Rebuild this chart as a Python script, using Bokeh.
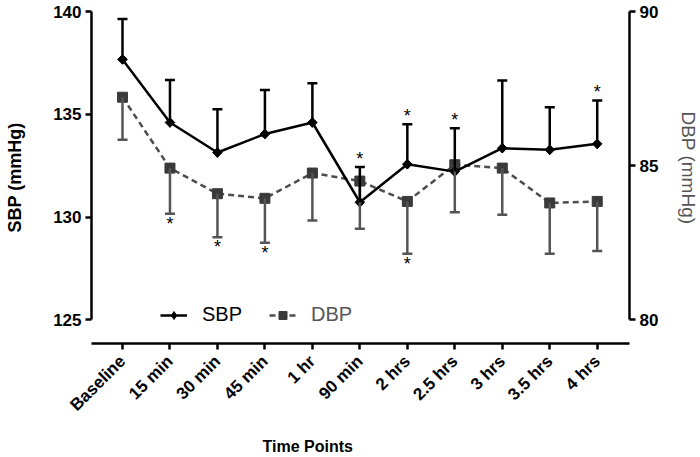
from math import pi
from bokeh.plotting import figure
from bokeh.layouts import row
from bokeh.models import (Range1d, LinearAxis, FixedTicker, ColumnDataSource,
                          Whisker, TeeHead, Legend, LegendItem, Title)
from bokeh.core.properties import value
from bokeh.embed import file_html
from bokeh.resources import INLINE

# ---- data ----
time_labels = ["Baseline", "15 min", "30 min", "45 min", "1 hr", "90 min",
               "2 hrs", "2.5 hrs", "3 hrs", "3.5 hrs", "4 hrs"]
sbp_mean = [137.67, 134.60, 133.14, 134.04, 134.60, 130.72, 132.57, 132.21, 133.35, 133.27, 133.56]
sbp_sem = [1.97, 2.07, 2.11, 2.14, 1.91, 1.71, 1.95, 2.11, 3.29, 2.07, 2.11]
dbp_mean = [87.22, 84.92, 84.09, 83.94, 84.76, 84.50, 83.84, 85.03, 84.92, 83.79, 83.84]
dbp_sem = [1.38, 1.48, 1.41, 1.44, 1.54, 1.55, 1.70, 1.54, 1.51, 1.65, 1.61]
sbp_sig = [0, 0, 0, 0, 0, 1, 1, 1, 0, 0, 1]
dbp_sig = [0, 1, 1, 1, 0, 0, 1, 0, 0, 0, 0]
sbp_ticks = [125, 130, 135, 140]
dbp_ticks = [80, 85, 90]
dbp_title = "DBP  (mmHg)"

FONT = "Liberation Sans"
x = list(range(len(time_labels)))

src = ColumnDataSource(dict(
    x=x,
    sbp=sbp_mean,
    sbp_hi=[m + e for m, e in zip(sbp_mean, sbp_sem)],
    dbp=dbp_mean,
    dbp_lo=[m - e for m, e in zip(dbp_mean, dbp_sem)],
))
sbp_star = ColumnDataSource(dict(
    x=[i for i in x if sbp_sig[i]],
    y=[sbp_mean[i] + sbp_sem[i] for i in x if sbp_sig[i]],
    t=["*" for i in x if sbp_sig[i]],
))
dbp_star = ColumnDataSource(dict(
    x=[i for i in x if dbp_sig[i]],
    y=[dbp_mean[i] - dbp_sem[i] for i in x if dbp_sig[i]],
    t=["*" for i in x if dbp_sig[i]],
))

dbp_range = Range1d(79.231, 90)
p = figure(frame_width=538, frame_height=332,
           output_backend="svg", toolbar_location=None,
           x_range=Range1d(-0.653, 10.68), y_range=Range1d(123.847, 140),
           x_axis_location=None, y_axis_location=None,
           min_border_left=91, min_border_right=40,
           min_border_top=11, min_border_bottom=100)
p.extra_y_ranges = {"dbp": dbp_range}
p.outline_line_color = None
p.xgrid.grid_line_color = None
p.ygrid.grid_line_color = None


def style_axis(ax, size="17px", standoff=4):
    ax.axis_line_width = 2.5
    ax.axis_line_color = "black"
    ax.major_tick_line_width = 2.5
    ax.major_tick_line_color = "black"
    ax.major_tick_out = 6
    ax.major_tick_in = 0
    ax.minor_tick_line_color = None
    ax.major_label_text_font = FONT
    ax.major_label_text_font_style = "bold"
    ax.major_label_text_font_size = size
    ax.major_label_text_color = "black"
    ax.major_label_standoff = standoff


left = LinearAxis(bounds=(125, 140), ticker=FixedTicker(ticks=sbp_ticks),
                  axis_label="SBP (mmHg)")
style_axis(left)
left.axis_label_text_font = FONT
left.axis_label_text_font_style = "bold"
left.axis_label_text_font_size = "18px"
left.axis_label_text_color = "black"
left.axis_label_standoff = 25
p.add_layout(left, "left")

right = LinearAxis(y_range_name="dbp", bounds=(80, 90),
                   ticker=FixedTicker(ticks=dbp_ticks))
style_axis(right)
p.add_layout(right, "right")

bottom = LinearAxis(ticker=FixedTicker(ticks=x),
                    major_label_overrides={i: lab for i, lab in zip(x, time_labels)})
style_axis(bottom, "17px", standoff=9)
bottom.major_label_orientation = pi / 4
p.add_layout(bottom, "below")

p.add_layout(Title(text="Time Points", align="left", offset=171, standoff=22,
                   text_font=FONT, text_font_style="bold", text_font_size="16px",
                   text_color="black"), "below")

# ---- DBP ----
dbp_w = Whisker(source=src, base="x", lower="dbp_lo", upper="dbp", dimension="height",
                y_range_name="dbp", line_color="#555555", line_width=2.5,
                lower_head=TeeHead(size=10, line_width=2.5, line_color="#555555"),
                upper_head=None, level="glyph")
p.add_layout(dbp_w)
dbp_line = p.line("x", "dbp", source=src, y_range_name="dbp", line_color="#4d4d4d",
                  line_width=2.5, line_dash="6 4")
dbp_pts = p.scatter("x", "dbp", source=src, y_range_name="dbp", marker="square",
                    size=10, fill_color="#3a3a3a", line_color="#3a3a3a")

# ---- SBP ----
sbp_w = Whisker(source=src, base="x", lower="sbp", upper="sbp_hi", dimension="height",
                line_color="black", line_width=2.5,
                upper_head=TeeHead(size=10, line_width=2.5, line_color="black"),
                lower_head=None, level="glyph")
p.add_layout(sbp_w)
sbp_line = p.line("x", "sbp", source=src, line_color="black", line_width=2.5)
# diamond key (hidden under the rotated squares) used for the legend
sbp_key = p.scatter("x", "sbp", source=src, marker="diamond", size=9.5,
                    fill_color="black", line_color="black")
sbp_pts = p.scatter("x", "sbp", source=src, marker="square", angle=pi / 4, size=6.8,
                    fill_color="black", line_color="black")

# ---- significance stars ----
p.text("x", "y", text="t", source=sbp_star, text_font=value(FONT), text_font_size="18px",
       text_align="center", text_baseline="alphabetic", y_offset=-8, text_color="black")
p.text("x", "y", text="t", source=dbp_star, y_range_name="dbp", text_font=value(FONT),
       text_font_size="18px", text_align="center", text_baseline="alphabetic",
       y_offset=10, text_color="black")

# ---- legends ----
common = dict(orientation="horizontal", padding=0, margin=0, border_line_color=None,
              background_fill_alpha=0, glyph_width=27, glyph_height=20, label_height=20,
              label_standoff=15, label_text_font=FONT, label_text_font_size="20px",
              spacing=0)
leg1 = Legend(items=[LegendItem(label="SBP", renderers=[sbp_line, sbp_key])],
              location=(69, 17), label_text_color="black", **common)
leg2 = Legend(items=[LegendItem(label="DBP", renderers=[dbp_line, dbp_pts])],
              location=(178, 17), label_text_color="#555555", **common)
p.add_layout(leg1)
p.add_layout(leg2)

# ---- narrow strip on the right holding the DBP title (reads top to bottom) ----
p2 = figure(frame_width=30, frame_height=332, output_backend="svg", toolbar_location=None,
            x_range=Range1d(0, 1), y_range=dbp_range,
            x_axis_location=None, y_axis_location=None,
            min_border_left=0, min_border_right=0, min_border_top=11, min_border_bottom=0)
p2.outline_line_color = None
p2.xgrid.grid_line_color = None
p2.ygrid.grid_line_color = None
p2.text(x=[0.62], y=[84.84], text=[dbp_title], angle=-pi / 2, text_align="center",
        text_baseline="middle", text_font=value(FONT), text_font_size="19px",
        text_color="#555555")

layout = row(p, p2)
open("out.html", "w").write(file_html(layout, INLINE))
